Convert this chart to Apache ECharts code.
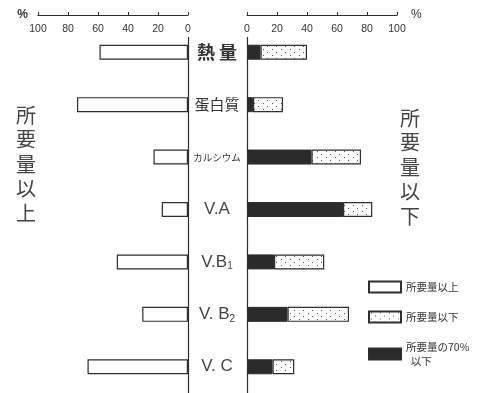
<!DOCTYPE html>
<html><head><meta charset="utf-8">
<script src="https://cdn.jsdelivr.net/npm/echarts@6/dist/echarts.min.js"></script>
<style>html,body{margin:0;padding:0;background:#fff}#c{width:488px;height:393px}</style>
</head><body><div id="c"></div>
<script>
const categories = ['熱 量', '蛋白質', 'カルシウム', 'V.A', 'V.B1', 'V. B2', 'V. C'];
const aboveReq = [59, 74, 23, 17.5, 47.5, 30.5, 67];        // 所要量以上
const below70 = [9, 4, 43, 64, 18, 27, 17];                 // 所要量の70%以下
const belowReqRest = [31, 20, 33, 19.5, 33.5, 41, 14.5];    // 所要量以下 (remaining part)
const tickMax = 100, tickStep = 20;

const ink = '#2e2e2e';
const pc = document.createElement('canvas');
pc.width = 9; pc.height = 6;
const g = pc.getContext('2d');
g.fillStyle = '#fff'; g.fillRect(0, 0, 9, 6);
g.fillStyle = '#555';
g.fillRect(2, 1, 1, 1); g.fillRect(6, 4, 1, 1);
const dotted = { image: pc, repeat: 'repeat' };

const chart = echarts.init(document.getElementById('c'), null, { renderer: 'canvas' });
const xLabel = {
  inside: true, margin: 7, fontSize: 10.5, color: '#333', fontFamily: 'Liberation Sans',
  backgroundColor: '#fff', padding: [2, 1]
};
chart.setOption({
  animation: false,
  backgroundColor: '#fff',
  grid: [
    { left: 38, top: 26, width: 150, height: 371 },
    { left: 247, top: 26, width: 150, height: 371 }
  ],
  xAxis: [
    { gridIndex: 0, type: 'value', inverse: true, min: 0, max: tickMax, interval: tickStep,
      position: 'top', offset: 11, z: 10,
      name: '%', nameLocation: 'end', nameGap: 10,
      nameTextStyle: { fontSize: 12, color: '#333', fontWeight: 'bold' },
      axisLine: { show: true, lineStyle: { color: ink, width: 1.2 } },
      axisTick: { show: true, length: 3, lineStyle: { color: ink } },
      axisLabel: xLabel, splitLine: { show: false } },
    { gridIndex: 1, type: 'value', min: 0, max: tickMax, interval: tickStep,
      position: 'top', offset: 11, z: 10,
      name: '%', nameLocation: 'end', nameGap: 14,
      nameTextStyle: { fontSize: 12, color: '#333' },
      axisLine: { show: true, lineStyle: { color: ink, width: 1.2 } },
      axisTick: { show: true, length: 3, lineStyle: { color: ink } },
      axisLabel: xLabel, splitLine: { show: false } }
  ],
  yAxis: [
    { gridIndex: 0, type: 'category', data: categories, inverse: true, position: 'right',
      axisLine: { lineStyle: { color: ink, width: 1.2 } }, axisTick: { show: false },
      axisLabel: {
        align: 'center', margin: 29, color: '#333',
        formatter: function (v) {
          if (v === 'カルシウム') return '{kana|' + v + '}';
          if (v.indexOf('V') === 0) {
            const m = v.match(/^(.*B)(\d)$/);
            if (m) return '{lat|' + m[1] + '}{sub|' + m[2] + '}';
            return '{lat|' + v + '}';
          }
          if (v === '熱 量') return '{big|' + v + '}';
          return '{cjk|' + v + '}';
        },
        rich: {
          big: { fontFamily: 'Noto Sans CJK JP', fontSize: 18, fontWeight: 'bold', color: '#333' },
          cjk: { fontFamily: 'Noto Sans CJK JP', fontSize: 15, color: '#333' },
          kana: { fontFamily: 'Noto Sans CJK JP', fontSize: 9.5, color: '#333' },
          lat: { fontFamily: 'Liberation Sans', fontSize: 17, color: '#444' },
          sub: { fontFamily: 'Liberation Sans', fontSize: 10, color: '#444', padding: [9, 0, 0, 0] }
        }
      } },
    { gridIndex: 1, type: 'category', data: categories, inverse: true, position: 'left',
      axisLine: { lineStyle: { color: ink, width: 1.2 } }, axisTick: { show: false },
      axisLabel: { show: false } }
  ],
  legend: {
    orient: 'vertical', left: 363, top: 275, itemWidth: 32, itemHeight: 11, itemGap: 16,
    icon: 'rect',
    data: ['所要量以上', '所要量以下', '所要量の70%以下'],
    formatter: function (n) { return n === '所要量の70%以下' ? '所要量の70%\n  以下' : n; },
    textStyle: { fontFamily: 'Noto Sans CJK JP', fontSize: 10.5, lineHeight: 14, color: '#333' }
  },
  graphic: [
    { type: 'text', left: 16, top: 103,
      style: { text: '所\n要\n量\n以\n上', font: '20px "Noto Sans CJK JP"', lineHeight: 24.5, fill: '#444' } },
    { type: 'text', left: 400, top: 106,
      style: { text: '所\n要\n量\n以\n下', font: '20px "Noto Sans CJK JP"', lineHeight: 24.5, fill: '#444' } }
  ],
  series: [
    { name: '所要量以上', type: 'bar', xAxisIndex: 0, yAxisIndex: 0, data: aboveReq, barWidth: 15,
      itemStyle: { color: '#fff', borderColor: ink, borderWidth: 1.2 } },
    { name: '所要量の70%以下', type: 'bar', stack: 'r', xAxisIndex: 1, yAxisIndex: 1, data: below70, barWidth: 15,
      itemStyle: { color: '#2b2b2b', borderColor: ink, borderWidth: 1 } },
    { name: '所要量以下', type: 'bar', stack: 'r', xAxisIndex: 1, yAxisIndex: 1, data: belowReqRest, barWidth: 15,
      itemStyle: { color: dotted, borderColor: ink, borderWidth: 1.2 } }
  ]
});
</script></body></html>
